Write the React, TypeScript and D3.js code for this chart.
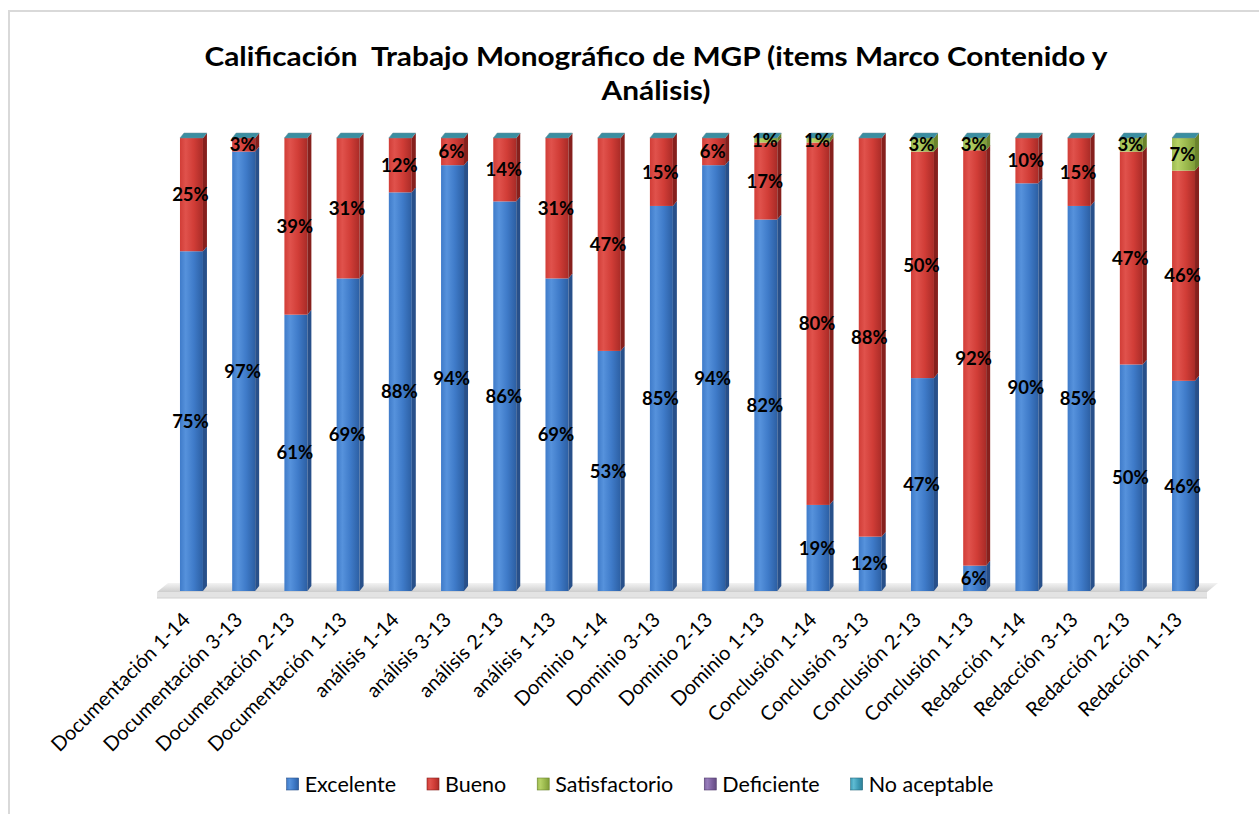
import { useEffect, useRef } from "react";
import * as d3 from "d3";

const categories = [
  "Documentación 1-14", "Documentación 3-13", "Documentación 2-13", "Documentación 1-13",
  "análisis 1-14", "análisis 3-13", "análisis 2-13", "análisis 1-13",
  "Dominio 1-14", "Dominio 3-13", "Dominio 2-13", "Dominio 1-13",
  "Conclusión 1-14", "Conclusión 3-13", "Conclusión 2-13", "Conclusión 1-13",
  "Redacción 1-14", "Redacción 3-13", "Redacción 2-13", "Redacción 1-13",
];

const seriesNames = ["Excelente", "Bueno", "Satisfactorio", "Deficiente", "No aceptable"];

const excelente = [75, 97, 61, 69, 88, 94, 86, 69, 53, 85, 94, 82, 19, 12, 47, 5.6, 90, 85, 50, 46.4];
const bueno = [25, 3, 39, 31, 12, 6, 14, 31, 47, 15, 6, 17, 80, 88, 50, 91.7, 10, 15, 47, 46.4];
const satisfactorio = [0, 0, 0, 0, 0, 0, 0, 0, 0, 0, 0, 1, 1, 0, 3, 2.7, 0, 0, 3, 7.2];
const deficiente = [0, 0, 0, 0, 0, 0, 0, 0, 0, 0, 0, 0, 0, 0, 0, 0, 0, 0, 0, 0];
const noAceptable = [0, 0, 0, 0, 0, 0, 0, 0, 0, 0, 0, 0, 0, 0, 0, 0, 0, 0, 0, 0];

const titleLines = ["Calificación  Trabajo Monográfico de MGP (items Marco Contenido y", "Análisis)"];

// front light / base / dark and side colours per series
const palette = {
  "Excelente": { light: "#5692dc", base: "#3f7bc9", dark: "#2c5fa3", side: "#28508a" },
  "Bueno": { light: "#e0524c", base: "#d13d37", dark: "#a92b27", side: "#86201d" },
  "Satisfactorio": { light: "#b6d266", base: "#9dbb4f", dark: "#7f9c37", side: "#6a832c" },
  "Deficiente": { light: "#977dbb", base: "#7f63a1", dark: "#634b82", side: "#503b6b" },
  "No aceptable": { light: "#5fbcd3", base: "#3f9db8", dark: "#2d7f96", side: "#26697c" },
};

const FONT = "Lato, 'Open Sans', sans-serif";

export default function App() {
  const ref = useRef<SVGSVGElement | null>(null);

  useEffect(() => {
    document.body.style.margin = "0";
    document.body.style.overflow = "hidden";

    const width = 1259;
    const height = 814;
    const svg = d3.select(ref.current);
    svg.selectAll("*").remove();

    const table = categories.map((c, i) => ({
      category: c,
      "Excelente": excelente[i],
      "Bueno": bueno[i],
      "Satisfactorio": satisfactorio[i],
      "Deficiente": deficiente[i],
      "No aceptable": noAceptable[i],
    }));

    const stacked = d3.stack<any>().keys(seriesNames).offset(d3.stackOffsetExpand)(table);

    const x = d3.scaleBand().domain(categories).range([157, 1218]).paddingInner(0.56).paddingOuter(0.44);
    const y = d3.scaleLinear().domain([0, 1]).range([591, 138]);
    const bw = x.bandwidth();
    const dx = 4, dy = -5; // bar depth
    const fdx = 11, fdy = -9; // floor depth

    const defs = svg.append("defs");
    seriesNames.forEach((s, k) => {
      const p = (palette as any)[s];
      const g = defs.append("linearGradient").attr("id", `front-${k}`).attr("x1", "0").attr("x2", "1").attr("y1", "0").attr("y2", "0");
      g.append("stop").attr("offset", "0%").attr("stop-color", p.base);
      g.append("stop").attr("offset", "25%").attr("stop-color", p.light);
      g.append("stop").attr("offset", "60%").attr("stop-color", p.base);
      g.append("stop").attr("offset", "100%").attr("stop-color", p.dark);
    });
    const fg = defs.append("linearGradient").attr("id", "floor").attr("x1", "0").attr("x2", "0").attr("y1", "0").attr("y2", "1");
    fg.append("stop").attr("offset", "0%").attr("stop-color", "#f3f3f3");
    fg.append("stop").attr("offset", "100%").attr("stop-color", "#cdcdcd");

    // outer frame
    svg.append("rect")
      .attr("x", 9).attr("y", 11)
      .attr("width", width + 40).attr("height", height + 40)
      .attr("fill", "#fff").attr("stroke", "#d9d9d9").attr("stroke-width", 2);

    // title
    const title = svg.append("g").attr("font-family", FONT).attr("font-weight", "bold")
      .attr("font-size", 27).attr("fill", "#000").attr("text-anchor", "middle");
    const t1 = title.append("text").attr("x", 656).attr("y", 66).style("white-space", "pre").text(titleLines[0]);
    const t2 = title.append("text").attr("x", 656).attr("y", 100).text(titleLines[1]);
    const natural = (t1.node() as SVGTextElement).getComputedTextLength();
    const ratio = 903 / natural;
    t1.attr("textLength", 903).attr("lengthAdjust", "spacingAndGlyphs");
    const n2 = (t2.node() as SVGTextElement).getComputedTextLength();
    t2.attr("textLength", n2 * ratio).attr("lengthAdjust", "spacingAndGlyphs");

    // floor
    const [r0, r1] = x.range();
    const floorY = y(0) + 1;
    svg.append("path")
      .attr("d", `M${r0},${floorY} L${r0 + fdx},${floorY + fdy} L${r1},${floorY + fdy} L${r1 - fdx},${floorY} Z`)
      .attr("fill", "url(#floor)");
    svg.append("rect")
      .attr("x", r0).attr("y", floorY).attr("width", r1 - fdx - r0).attr("height", 6)
      .attr("fill", "#e3e3e3");
    svg.append("line")
      .attr("x1", r0).attr("x2", r1 - fdx).attr("y1", floorY + 6).attr("y2", floorY + 6)
      .attr("stroke", "#d0d0d0").attr("stroke-width", 1);

    // bars
    const bars = svg.append("g");
    categories.forEach((c, i) => {
      const xl = x(c) as number;
      const xr = xl + bw;
      const g = bars.append("g");
      stacked.forEach((layer, k) => {
        const d = layer[i];
        if (d[1] - d[0] <= 0) return;
        const yt = y(d[1]);
        const yb = y(d[0]);
        const p = (palette as any)[seriesNames[k]];
        g.append("rect").attr("x", xl).attr("y", yt).attr("width", bw).attr("height", yb - yt)
          .attr("fill", `url(#front-${k})`);
        g.append("path")
          .attr("d", `M${xr},${yb} L${xr + dx},${yb + dy} L${xr + dx},${yt + dy} L${xr},${yt} Z`)
          .attr("fill", p.side);
      });
      // top face belongs to the last (No aceptable) series
      const yTop = y(1);
      g.append("path")
        .attr("d", `M${xl},${yTop} L${xl + dx},${yTop + dy} L${xr + dx},${yTop + dy} L${xr},${yTop} Z`)
        .attr("fill", "#3a8ea1").attr("stroke", "#6b8f99").attr("stroke-width", 0.5);
    });

    // data labels
    const fmt = d3.format(".0%");
    const labels = svg.append("g").attr("font-family", FONT).attr("font-weight", "bold")
      .attr("font-size", 18.5).attr("fill", "#000").attr("text-anchor", "middle");
    stacked.forEach((layer) => {
      layer.forEach((d, i) => {
        const v = d[1] - d[0];
        if (v <= 0) return;
        labels.append("text")
          .attr("x", (x(categories[i]) as number) + bw / 2 - 1)
          .attr("y", y((d[0] + d[1]) / 2))
          .attr("dy", "0.36em")
          .text(fmt(v));
      });
    });

    // category axis labels
    const axis = svg.append("g").attr("font-family", FONT).attr("font-size", 20).attr("fill", "#000")
      .attr("text-anchor", "end");
    categories.forEach((c) => {
      const cx = (x(c) as number) + bw / 2;
      axis.append("text")
        .attr("transform", `translate(${cx},621) rotate(-45)`)
        .text(c);
    });

    // legend
    const legend = svg.append("g").attr("font-family", FONT).attr("font-size", 21.5).attr("fill", "#000");
    const items = seriesNames.map((s, k) => {
      const g = legend.append("g");
      g.append("rect").attr("width", 12).attr("height", 12).attr("y", -6)
        .attr("fill", `url(#front-${k})`).attr("stroke", (palette as any)[s].side).attr("stroke-width", 0.6);
      const t = g.append("text").attr("x", 18).attr("dy", "0.35em").text(s);
      const w = 18 + (t.node() as SVGTextElement).getComputedTextLength();
      return { g, w };
    });
    const gap = 31;
    const total = d3.sum(items, (d) => d.w) + gap * (items.length - 1);
    let cursor = 640 - total / 2;
    items.forEach((it) => {
      it.g.attr("transform", `translate(${cursor},784)`);
      cursor += it.w + gap;
    });
  }, []);

  return <svg ref={ref} width={1259} height={814} style={{ display: "block", background: "#fff" }}></svg>;
}
